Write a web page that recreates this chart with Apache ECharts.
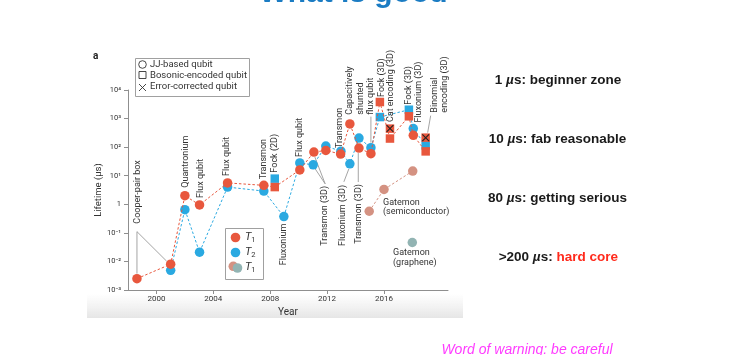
<!DOCTYPE html>
<html><head><meta charset="utf-8">
<script src="https://cdn.jsdelivr.net/npm/echarts@6/dist/echarts.min.js"></script>
<style>html,body{margin:0;padding:0;background:#fff}#c{width:738px;height:355px}</style>
</head><body><div id="c"></div>
<script>
// ---------------- data ----------------
const xTicks = [2000, 2004, 2008, 2012, 2016];
const yTickValues = [0.001, 0.01, 0.1, 1, 10, 100, 1000, 10000];
const yTickLabels = ['10⁻³', '10⁻²', '10⁻¹', '1', '10¹', '10²', '10³', '10⁴'];

// T1 (JJ-based circles + bosonic squares), joined by dashed line
const t1Years  = [1998.63, 2001.0, 2002.0, 2003.03, 2005.0, 2007.55, 2008.32, 2010.08, 2011.07, 2011.91, 2012.95, 2013.6, 2014.24, 2015.08, 2015.71, 2016.42, 2017.75, 2018.06, 2018.93];
const t1Values = [0.0025, 0.008, 2.0, 0.95, 5.6, 4.6, 4.0, 16, 67, 77, 57, 650, 93, 59, 3800, 200, 1200, 260, 71];
const t1Kinds  = ['jj','jj','jj','jj','jj','jj','bosonic','jj','jj','jj','jj','jj','jj','jj','bosonic','bosonic','bosonic','jj','bosonic'];

// T2, joined by dashed line
const t2Years  = [2001.0, 2002.0, 2003.03, 2005.0, 2007.55, 2008.96, 2010.08, 2011.02, 2011.91, 2012.97, 2013.6, 2014.24, 2015.08, 2015.71, 2017.75, 2018.06, 2018.93];
const t2Values = [0.0049, 0.65, 0.021, 4.0, 2.9, 0.37, 28, 24, 109, 72, 26, 208, 96, 1130, 2040, 445, 115];
const t2Kinds  = ['jj','jj','jj','jj','jj','jj','jj','jj','jj','jj','jj','jj','jj','bosonic','bosonic','jj','bosonic'];

// T2 of the 2D Fock state (not on the line)
const t2OffYears  = [2008.32];
const t2OffValues = [7.9];

// Error-corrected qubits
const ecYears  = [2016.42, 2018.93];
const ecValues = [445, 215];

// Gatemon (semiconductor) and Gatemon (graphene), T1
const gsYears  = [2014.96, 2016.0, 2018.02];
const gsValues = [0.57, 3.3, 14.6];
const ggYears  = [2017.99];
const ggValues = [0.046];

// ---------------- style ----------------
const RED = '#e8573d', BLUE = '#2aa9e1', SALMON = '#d49282', TEAL = '#92b4b3';
const AX = '#8f8f8f', TXT = '#333333', FONT = 'Roboto';

function mk(years, vals, kinds) {
  return years.map((y, i) => {
    const bos = kinds && kinds[i] === 'bosonic';
    return { value: [y, vals[i]], symbol: bos ? 'rect' : 'circle', symbolSize: bos ? 8.5 : 9.5 };
  });
}
const XPATH = 'path://M1,0L5,4L9,0L10,1L6,5L10,9L9,10L5,6L1,10L0,9L4,5L0,1Z';

const chart = echarts.init(document.getElementById('c'));
chart.setOption({
  animation: false,
  grid: { left: 128, right: 290, top: 90, bottom: 65 },
  xAxis: {
    type: 'value', min: 1998, max: 2020.5,
    name: 'Year', nameLocation: 'middle', nameGap: 15,
    nameTextStyle: { fontFamily: FONT, fontSize: 10, color: TXT },
    axisLine: { show: true, lineStyle: { color: AX, width: 1 } },
    axisTick: { show: true, length: 4, customValues: xTicks, lineStyle: { color: AX } },
    axisLabel: { customValues: xTicks, fontFamily: FONT, fontSize: 8, color: TXT, margin: 5, formatter: v => String(v) },
    splitLine: { show: false }
  },
  yAxis: {
    type: 'log', logBase: 10, min: 0.001, max: 10000,
    name: 'Lifetime (µs)', nameLocation: 'middle', nameGap: 21,
    nameTextStyle: { fontFamily: FONT, fontSize: 9.5, color: TXT },
    axisLine: { show: true, lineStyle: { color: AX, width: 1 } },
    axisTick: { show: true, length: 4, customValues: yTickValues, lineStyle: { color: AX } },
    axisLabel: {
      customValues: yTickValues, fontFamily: FONT, fontSize: 7.5, color: TXT, margin: 7,
      formatter: v => {
        const k = yTickValues.findIndex(t => Math.abs(Math.log10(t) - Math.log10(v)) < 1e-6);
        return k >= 0 ? yTickLabels[k] : '';
      }
    },
    splitLine: { show: false }, minorTick: { show: false }
  },
  series: [
    { name: 'T2', type: 'line', z: 3, data: mk(t2Years, t2Values, t2Kinds),
      lineStyle: { color: BLUE, width: 1, type: [2.5, 2] }, itemStyle: { color: BLUE, opacity: 1 } },
    { name: 'T2 2D', type: 'scatter', z: 3, data: mk(t2OffYears, t2OffValues, ['bosonic']),
      itemStyle: { color: BLUE, opacity: 1 } },
    { name: 'T1', type: 'line', z: 4, data: mk(t1Years, t1Values, t1Kinds),
      lineStyle: { color: RED, width: 1, type: [2.5, 2] }, itemStyle: { color: RED, opacity: 1 } },
    { name: 'EC', type: 'scatter', z: 5, symbol: 'rect', symbolSize: 8.5,
      data: ecYears.map((y, i) => [y, ecValues[i]]), itemStyle: { color: RED, opacity: 1 } },
    { name: 'ECx', type: 'scatter', z: 6, symbol: XPATH, symbolSize: 7.5,
      data: ecYears.map((y, i) => [y, ecValues[i]]), itemStyle: { color: '#222', opacity: 1 } },
    { name: 'Gatemon semi', type: 'line', z: 3, symbol: 'circle', symbolSize: 9.5,
      data: gsYears.map((y, i) => [y, gsValues[i]]),
      lineStyle: { color: SALMON, width: 1, type: [2.5, 2] }, itemStyle: { color: SALMON, opacity: 1 } },
    { name: 'Gatemon graphene', type: 'scatter', z: 3, symbol: 'circle', symbolSize: 9.5,
      data: ggYears.map((y, i) => [y, ggValues[i]]), itemStyle: { color: TEAL, opacity: 1 } }
  ]
});

// ---------------- annotations ----------------
const sets = {
  t1: [t1Years, t1Values], t2: [t2Years, t2Values], t2off: [t2OffYears, t2OffValues],
  ec: [ecYears, ecValues], gs: [gsYears, gsValues], gg: [ggYears, ggValues]
};
function P(ref, dx, dy) {
  const s = sets[ref[0]];
  const p = chart.convertToPixel({ gridIndex: 0 }, [s[0][ref[1]], s[1][ref[1]]]);
  return [p[0] + dx, p[1] + dy];
}
const rotLabels = [
  ['Cooper-pair box', ['t1', 0], 0.3, -55, false],
  ['Quantronium', ['t1', 2], 1, -8, false],
  ['Flux qubit', ['t1', 3], 1.5, -7, false],
  ['Flux qubit', ['t1', 4], -0.5, -7, false],
  ['Transmon', ['t1', 5], 0, -6, false],
  ['Fock (2D)', ['t2off', 0], 0, -6, false],
  ['Fluxonium', ['t2', 5], 0.3, 7, true],
  ['Flux qubit', ['t2', 6], 0, -6, false],
  ['Transmon (3D)', ['t2', 7], 12, 21, true],
  ['Transmon', ['t1', 10], -0.7, -6, false],
  ['Fluxonium (3D)', ['t2', 10], -7, 21, true],
  ['Transmon (3D)', ['t1', 12], -0.7, 36, true],
  ['Capacitively\nshunted\nflux qubit', ['t2', 12], -10.5, -33, false],
  ['Fock (3D)', ['t1', 14], 2, -5, false],
  ['Cat encoding (3D)', ['ec', 0], 0.5, -6.5, false],
  ['Fock (3D)', ['t2', 14], -0.5, -5, false],
  ['Fluxonium (3D)', ['t2', 15], 5, -6, false],
  ['Binomial\nencoding (3D)', ['ec', 1], 14.3, -25, false]
];
const leaders = [
  [['t1', 0], 0, -47, ['t1', 0], 0, -5],
  [['t1', 0], 0, -47, ['t1', 1], -4, -3],
  [['t2', 7], 12, 19, ['t2', 7], 2, 4],
  [['t2', 7], 12, 19, ['t1', 8], 1, 5],
  [['t2', 10], -6, 18, ['t2', 10], -1, 5],
  [['t1', 12], -0.7, 34, ['t1', 12], -0.7, 5],
  [['t2', 12], 0, -31, ['t2', 12], 0, -5],
  [['ec', 1], 5, -22, ['ec', 1], 2, -5]
];

const g = [];
// bottom shading of the pasted figure
g.push({ type: 'rect', z: -10, shape: { x: 87, y: 294, width: 376, height: 24 },
  style: { fill: new echarts.graphic.LinearGradient(0, 0, 0, 1, [{ offset: 0, color: 'rgba(232,232,232,0)' }, { offset: 1, color: '#e6e6e6' }]) } });

rotLabels.forEach(([text, ref, dx, dy, end]) => {
  const p = P(ref, dx, dy);
  g.push({ type: 'text', x: p[0], y: p[1], rotation: Math.PI / 2, z: 20,
    style: { text, align: end ? 'right' : 'left', verticalAlign: 'middle', fontFamily: FONT, fontSize: 9, lineHeight: 10.5, fill: TXT } });
});
leaders.forEach(([ra, ax, ay, rb, bx, by]) => {
  const a = P(ra, ax, ay), b = P(rb, bx, by);
  g.push({ type: 'line', z: 1, shape: { x1: a[0], y1: a[1], x2: b[0], y2: b[1] }, style: { stroke: '#9a9a9a', lineWidth: 0.9 } });
});
[['Gatemon\n(semiconductor)', ['gs', 1], -1, 8], ['Gatemon\n(graphene)', ['gg', 0], -19.3, 5.7]].forEach(([text, ref, dx, dy]) => {
  const p = P(ref, dx, dy);
  g.push({ type: 'text', x: p[0], y: p[1], z: 20,
    style: { text, align: 'left', verticalAlign: 'top', fontFamily: FONT, fontSize: 9, lineHeight: 9.6, fill: TXT } });
});

// panel letter
g.push({ type: 'text', x: 93, y: 56, style: { text: 'a', fontFamily: FONT, fontWeight: 'bold', fontSize: 10, fill: '#222', align: 'left', verticalAlign: 'middle' } });

// legend 1
g.push({ type: 'rect', z: 10, shape: { x: 135.5, y: 58.5, width: 114, height: 38 }, style: { fill: '#fff', stroke: '#a0a0a0', lineWidth: 1 } });
g.push({ type: 'circle', z: 11, shape: { cx: 142.5, cy: 64.5, r: 3.8 }, style: { fill: 'none', stroke: '#333', lineWidth: 0.9 } });
g.push({ type: 'rect', z: 11, shape: { x: 139, y: 71.5, width: 7, height: 7 }, style: { fill: 'none', stroke: '#333', lineWidth: 0.9 } });
g.push({ type: 'line', z: 11, shape: { x1: 139, y1: 84, x2: 146, y2: 91 }, style: { stroke: '#333', lineWidth: 0.9 } });
g.push({ type: 'line', z: 11, shape: { x1: 146, y1: 84, x2: 139, y2: 91 }, style: { stroke: '#333', lineWidth: 0.9 } });
[['JJ-based qubit', 64.5], ['Bosonic-encoded qubit', 75.5], ['Error-corrected qubit', 87]].forEach(([t, y]) => {
  g.push({ type: 'text', z: 11, x: 150, y, style: { text: t, fontFamily: FONT, fontSize: 9.5, fill: TXT, align: 'left', verticalAlign: 'middle' } });
});

// legend 2
g.push({ type: 'rect', z: 10, shape: { x: 225.5, y: 228.5, width: 38, height: 51 }, style: { fill: '#fff', stroke: '#a0a0a0', lineWidth: 1 } });
g.push({ type: 'circle', z: 11, shape: { cx: 235.5, cy: 237.5, r: 4.8 }, style: { fill: RED } });
g.push({ type: 'circle', z: 11, shape: { cx: 235.5, cy: 252.5, r: 4.8 }, style: { fill: BLUE } });
g.push({ type: 'circle', z: 11, shape: { cx: 233.3, cy: 266.3, r: 4.8 }, style: { fill: SALMON } });
g.push({ type: 'circle', z: 12, shape: { cx: 237.5, cy: 268, r: 4.8 }, style: { fill: TEAL } });
[[237.5, '1'], [252.5, '2'], [267.5, '1']].forEach(([y, s]) => {
  g.push({ type: 'text', z: 12, x: 245, y, style: {
    text: '{t|T}{s|' + s + '}', align: 'left', verticalAlign: 'middle',
    rich: { t: { fontFamily: FONT, fontStyle: 'italic', fontSize: 11, fill: TXT, lineHeight: 14, verticalAlign: 'middle' },
            s: { fontFamily: FONT, fontSize: 7.5, fill: TXT, lineHeight: 14, verticalAlign: 'bottom', padding: [4, 0, 0, 0] } } } });
});

// slide title (clipped at top)
g.push({ type: 'text', x: 353.5, y: 9, style: { text: 'What is good', fontFamily: 'Liberation Sans', fontWeight: 'bold', fontSize: 30, fill: '#1b7cc3', align: 'center', verticalAlign: 'bottom' } });

// right-side notes
const noteRich = {
  n: { fontFamily: 'Liberation Sans', fontWeight: 'bold', fontSize: 13.5, fill: '#1a1a1a' },
  m: { fontFamily: 'Liberation Sans', fontWeight: 'bold', fontStyle: 'italic', fontSize: 13.5, fill: '#1a1a1a' },
  r: { fontFamily: 'Liberation Sans', fontWeight: 'bold', fontSize: 13.5, fill: '#ff2a1c' }
};
[['{n|1 }{m|µ}{n|s: beginner zone}', 558, 80.7], ['{n|10 }{m|µ}{n|s: fab reasonable}', 557.5, 139.3],
 ['{n|80 }{m|µ}{n|s: getting serious}', 557.5, 198.3], ['{n|>200 }{m|µ}{n|s: }{r|hard core}', 558.3, 257.3]].forEach(([t, x, y]) => {
  g.push({ type: 'text', x, y, style: { text: t, rich: noteRich, align: 'center', verticalAlign: 'middle' } });
});
g.push({ type: 'text', x: 527, y: 350, style: { text: 'Word of warning: be careful', fontFamily: 'Liberation Sans', fontStyle: 'italic', fontSize: 14, fill: '#ff3cff', align: 'center', verticalAlign: 'middle' } });

chart.setOption({ graphic: g });
</script>
</body></html>
